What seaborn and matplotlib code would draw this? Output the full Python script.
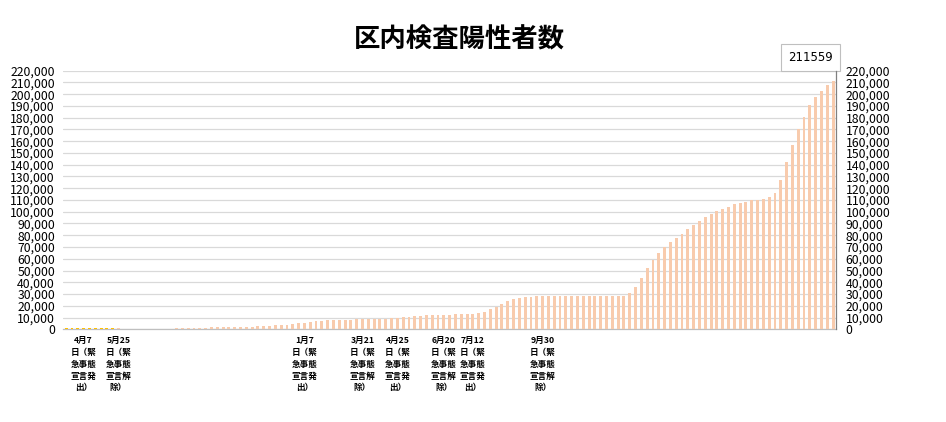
import matplotlib
matplotlib.use("Agg")
import numpy as np
import pandas as pd
import matplotlib.pyplot as plt
import seaborn as sns
from matplotlib.ticker import FuncFormatter, FixedLocator

# 週ごとの累計陽性者数（左から順に133週分、図から読み取り）
values = [
    1100, 1150, 1200, 1200, 1250, 1250, 1300, 1300, 1300,
    1300,
    0, 0, 0, 0, 0, 0, 0, 0, 0,
    850, 900, 950, 1000, 1100, 1200, 1650, 1700, 1750, 1800, 1850,
    1900, 2000, 2100, 2600, 2700, 2800, 3400, 3500, 4000, 4600, 5100,
    5400, 6300, 7100, 7200, 7900, 8000, 8100, 8100, 8200, 8800,
    8900, 8900, 9000, 9000, 9100, 9900, 10000, 10100, 10200, 11000,
    11100, 11900, 12000, 12000, 12100, 12200, 12900, 13000, 13100, 13200,
    14000, 14900, 17000, 19100, 21700, 24000, 25700, 26600, 27400, 27700,
    28100, 28200, 28200, 28300, 28300,
    28300, 28300, 28300, 28300, 28300, 28300, 28400, 28400, 28400, 28400, 28400,
    30800, 36000, 43700, 52300, 59200, 65200, 69600, 74500, 77900, 81300,
    85600, 88900, 92300, 95700, 98300, 100600, 102600, 104300, 106200, 107100,
    108500, 109700, 110200, 111100, 112800, 116200, 127300, 142600, 157100, 170500,
    180700, 190600, 197200, 202300, 207400, 211559,
]

# 最初の緊急事態宣言期間（黄色で表示）
first_period_weeks = 9

# 横軸に表示する出来事
event_pos = [3, 9, 41, 51, 57, 65, 70, 82]
event_text = [
    "4月7\n日（緊\n急事態\n宣言発\n出）",
    "5月25\n日（緊\n急事態\n宣言解\n除）",
    "1月7\n日（緊\n急事態\n宣言発\n出）",
    "3月21\n日（緊\n急事態\n宣言解\n除）",
    "4月25\n日（緊\n急事態\n宣言発\n出）",
    "6月20\n日（緊\n急事態\n宣言解\n除）",
    "7月12\n日（緊\n急事態\n宣言発\n出）",
    "9月30\n日（緊\n急事態\n宣言解\n除）",
]

title = "区内検査陽性者数"

sns.set_style("white")
plt.rcParams['font.family'] = ['Noto Sans CJK JP', 'DejaVu Sans']
plt.rcParams['text.color'] = 'black'
plt.rcParams['xtick.color'] = 'black'
plt.rcParams['ytick.color'] = 'black'

df = pd.DataFrame({
    'week': np.arange(len(values)),
    'count': values,
    'period': ['宣言'] * first_period_weeks + ['通常'] * (len(values) - first_period_weeks),
})

fig = plt.figure(figsize=(9.46, 4.22), dpi=100)
ax = fig.add_axes([0.0669, 0.2197, 0.8168, 0.6128])

sns.barplot(data=df, x='week', y='count', hue='period', dodge=False,
            palette={'宣言': '#FFC000', '通常': '#F8CBAD'}, width=0.5,
            saturation=1, linewidth=0, legend=False, ax=ax, zorder=3)

ax.set_xlim(-0.5, len(values) - 0.5)
ax.set_ylim(0, 220000)
yt = np.arange(0, 220001, 10000)
fmt = FuncFormatter(lambda v, p: f"{int(v):,}")
ax.set_yticks(yt)
ax.yaxis.set_major_formatter(fmt)
ax.grid(axis='y', color='#D9D9D9', linewidth=0.9, zorder=0)
ax.set_axisbelow(True)
ax.set_xlabel("")
ax.set_ylabel("")

# 横軸
ax.set_xticks(event_pos)
ax.set_xticklabels(event_text, fontsize=6.2, fontweight='bold', linespacing=1.4)
ax.xaxis.set_minor_locator(FixedLocator(np.arange(-0.5, len(values), 1)))
ax.tick_params(axis='x', which='major', length=0, pad=5)
ax.tick_params(axis='x', which='minor', length=3, color='#BFBFBF', width=0.8)
ax.tick_params(axis='y', length=0, labelsize=8.8, pad=6)

for s in ['top', 'left', 'right']:
    ax.spines[s].set_visible(False)
ax.spines['bottom'].set_color('#BFBFBF')
ax.spines['bottom'].set_linewidth(0.9)

# 右側の軸
ax2 = ax.twinx()
ax2.set_ylim(ax.get_ylim())
ax2.set_yticks(yt)
ax2.yaxis.set_major_formatter(fmt)
ax2.tick_params(axis='y', length=0, labelsize=8.8, pad=7)
for s in ['top', 'left', 'bottom']:
    ax2.spines[s].set_visible(False)
ax2.spines['right'].set_color('#808080')
ax2.spines['right'].set_linewidth(0.9)

# 最新値
ax.annotate(f"{values[-1]}", xy=(len(values) - 1, values[-1]),
            xytext=(-23, 23), textcoords='offset pixels',
            ha='center', va='center', fontsize=8.5, family=['DejaVu Sans'],
            bbox=dict(boxstyle='square,pad=0.6', fc='white', ec='#BFBFBF', lw=0.8),
            zorder=5)

fig.text(0.486, 0.905, title, ha='center', va='center',
         fontsize=19, fontweight='bold')

fig.savefig('out.png', dpi=100)
